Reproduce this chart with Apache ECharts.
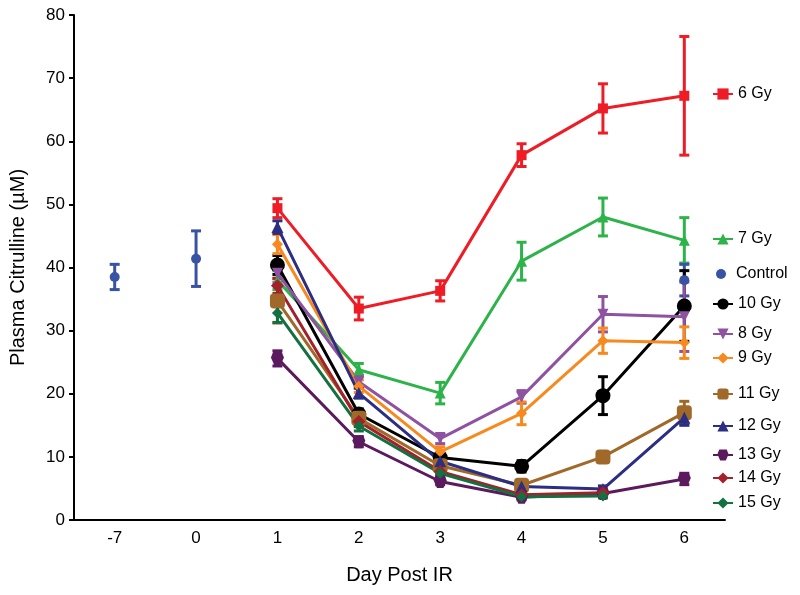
<!DOCTYPE html>
<html>
<head>
<meta charset="utf-8">
<script src="https://cdn.jsdelivr.net/npm/echarts@6/dist/echarts.min.js"></script>
<style>html,body{margin:0;padding:0;background:#fff}#c{width:800px;height:595px}</style>
</head>
<body>
<div id="c"></div>
<script>
var days = ['-7','0','1','2','3','4','5','6'];
var n = null;
var control = [38.5, 41.4, n, n, n, n, n, 38.0];
var controlErr = [2.0, 4.4, n, n, n, n, n, 2.5];
var gy6 = [n, n, 49.4, 33.5, 36.3, 57.8, 65.2, 67.2];
var gy6Err = [n, n, 1.5, 1.8, 1.6, 1.8, 3.9, 9.4];
var gy7 = [n, n, 38.0, 23.8, 20.1, 41.0, 48.0, 44.3];
var gy7Err = [n, n, 1.5, 1.0, 1.7, 3.0, 3.0, 3.6];
var gy10 = [n, n, 40.4, 16.8, 9.9, 8.5, 19.7, 33.9];
var gy10Err = [n, n, 1.5, 0.8, 0.7, 0.9, 3.0, 5.6];
var gy8 = [n, n, 39.1, 21.9, 12.9, 19.5, 32.6, 32.2];
var gy8Err = [n, n, 1.5, 1.0, 0.8, 1.0, 2.8, 5.5];
var gy9 = [n, n, 43.7, 21.2, 10.8, 16.9, 28.4, 28.1];
var gy9Err = [n, n, 1.5, 1.0, 0.8, 1.8, 2.0, 2.5];
var gy11 = [n, n, 34.7, 16.1, 8.6, 5.5, 10.0, 17.0];
var gy11Err = [n, n, 3.5, 0.8, 0.6, 0.5, 0.6, 1.8];
var gy12 = [n, n, 46.4, 20.1, 9.3, 5.3, 4.9, 16.2];
var gy12Err = [n, n, 1.0, 0.8, 0.6, 0.4, 0.5, 1.2];
var gy13 = [n, n, 25.6, 12.4, 6.1, 3.6, 4.2, 6.5];
var gy13Err = [n, n, 1.2, 0.8, 0.5, 0.4, 0.4, 0.9];
var gy14 = [n, n, 37.1, 15.6, 7.7, 4.0, 4.3, n];
var gy14Err = [n, n, 1.2, 0.8, 0.5, 0.3, 0.3, n];
var gy15 = [n, n, 32.8, 14.9, 7.4, 3.7, 3.8, n];
var gy15Err = [n, n, 1.5, 0.8, 0.5, 0.3, 0.3, n];

var groups = [
  {name:'6 Gy', data:gy6, err:gy6Err, color:'#ee1c25', symbol:'rect', size:10, rot:0, ly:94},
  {name:'7 Gy', data:gy7, err:gy7Err, color:'#2db34a', symbol:'triangle', size:11, rot:0, ly:239},
  {name:'Control', data:control, err:controlErr, color:'#3953a4', symbol:'circle', size:10, rot:0, ly:274, scatter:true},
  {name:'10 Gy', data:gy10, err:gy10Err, color:'#000000', symbol:'circle', size:15, rot:0, ly:304},
  {name:'8 Gy', data:gy8, err:gy8Err, color:'#8f52a1', symbol:'triangle', size:11, rot:180, ly:334},
  {name:'9 Gy', data:gy9, err:gy9Err, color:'#f7891f', symbol:'diamond', size:11, rot:0, ly:358},
  {name:'11 Gy', data:gy11, err:gy11Err, color:'#a0692a', symbol:'roundRect', size:15, rot:0, ly:394},
  {name:'12 Gy', data:gy12, err:gy12Err, color:'#2b2e83', symbol:'triangle', size:12, rot:0, ly:426},
  {name:'13 Gy', data:gy13, err:gy13Err, color:'#5c1a5e', symbol:'path://M-2,0 L2,0 L3,1.5 L1.5,3.5 L-1.5,3.5 L-3,1.5 Z', size:13, rot:0, ly:455},
  {name:'14 Gy', data:gy14, err:gy14Err, color:'#a4202a', symbol:'diamond', size:13, rot:0, ly:478},
  {name:'15 Gy', data:gy15, err:gy15Err, color:'#137040', symbol:'diamond', size:11, rot:0, ly:503}
];

function errData(vals, errs){
  var out = [];
  for (var i = 0; i < vals.length; i++){
    if (vals[i] != null && errs[i] != null) out.push([i, vals[i]-errs[i], vals[i]+errs[i]]);
  }
  return out;
}
function makeRender(color){
  return function(params, api){
    var x = api.value(0);
    var p1 = api.coord([x, api.value(1)]);
    var p2 = api.coord([x, api.value(2)]);
    var w = 5;
    var st = {stroke: color, lineWidth: 3};
    return {type:'group', children:[
      {type:'line', shape:{x1:p1[0], y1:p1[1], x2:p2[0], y2:p2[1]}, style:st},
      {type:'line', shape:{x1:p1[0]-w, y1:p1[1], x2:p1[0]+w, y2:p1[1]}, style:st},
      {type:'line', shape:{x1:p2[0]-w, y1:p2[1], x2:p2[0]+w, y2:p2[1]}, style:st}
    ]};
  };
}

var series = [];
var legends = [];
var font = 'Liberation Sans, Arial, sans-serif';
groups.forEach(function(g, k){
  series.push({
    name: g.name + ' err', type:'custom', renderItem: makeRender(g.color),
    data: errData(g.data, g.err), encode:{x:0, y:[1,2]}, z: 2 + k*0.01, silent:true
  });
  if (g.scatter){
    series.push({name:g.name, type:'scatter', data:g.data, symbol:g.symbol, symbolSize:g.size,
      itemStyle:{color:g.color, opacity:1}, z:3});
  } else {
    series.push({name:g.name, type:'line', data:g.data, symbol:g.symbol, symbolSize:g.size,
      symbolRotate:g.rot, connectNulls:false, showAllSymbol:true,
      lineStyle:{color:g.color, width:3}, itemStyle:{color:g.color}, z:3});
  }
  legends.push({
    data:[g.name], left: g.scatter ? 716 : 712, top:g.ly-9, itemWidth:20,
    itemHeight: g.scatter ? 10 : 14, padding:0,
    textStyle:{fontSize:16, fontFamily:font, color:'#000', lineHeight:18},
    selectedMode:false
  });
});

var chart = echarts.init(document.getElementById('c'), null, {renderer:'canvas'});
chart.setOption({
  animation:false,
  backgroundColor:'#fff',
  grid:{left:74, right:75, top:15, bottom:75},
  legend: legends,
  xAxis:{
    type:'category', data:days, boundaryGap:true,
    name:'Day Post IR', nameLocation:'middle', nameGap:45,
    nameTextStyle:{fontSize:20, fontFamily:font, color:'#000'},
    axisLine:{lineStyle:{color:'#000', width:2}},
    axisTick:{alignWithLabel:true, length:5, lineStyle:{color:'#000', width:2}},
    axisLabel:{fontSize:17, fontFamily:font, color:'#000', margin:10}
  },
  yAxis:{
    type:'value', min:0, max:80, interval:10,
    name:'Plasma Citrulline (µM)', nameLocation:'middle', nameGap:46,
    nameTextStyle:{fontSize:20, fontFamily:font, color:'#000'},
    axisLine:{show:true, lineStyle:{color:'#000', width:2}},
    axisTick:{show:true, length:5, lineStyle:{color:'#000', width:2}},
    axisLabel:{fontSize:17, fontFamily:font, color:'#000', margin:9},
    splitLine:{show:false}
  },
  series: series
});
</script>
</body>
</html>
